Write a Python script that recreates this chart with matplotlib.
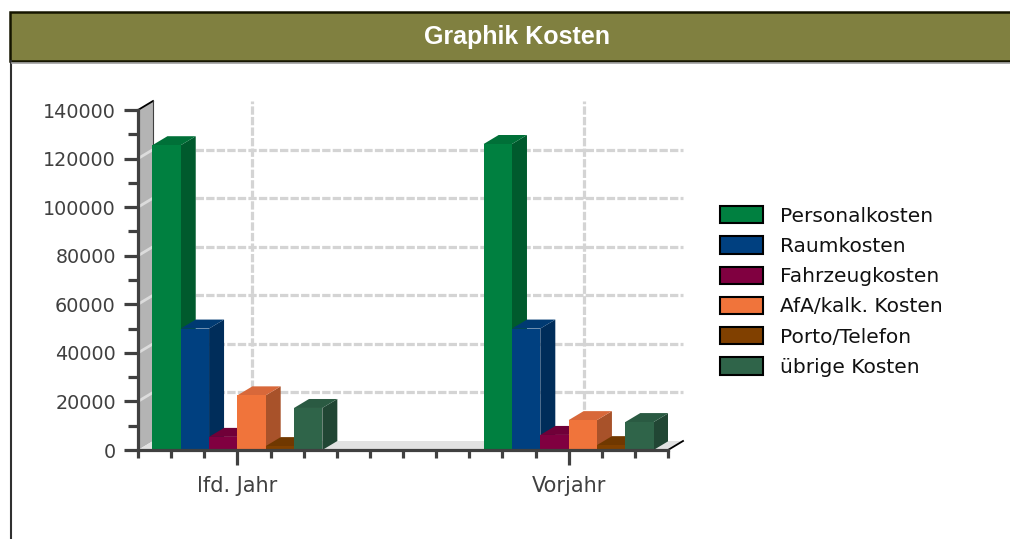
import matplotlib
matplotlib.use("Agg")
import matplotlib.pyplot as plt
from matplotlib.patches import Rectangle, Polygon, Patch
from matplotlib.lines import Line2D

# data
categories = ["lfd. Jahr", "Vorjahr"]
series = ["Personalkosten", "Raumkosten", "Fahrzeugkosten",
          "AfA/kalk. Kosten", "Porto/Telefon", "übrige Kosten"]
lfd_jahr = [125500, 50000, 5400, 22500, 1600, 17300]
vorjahr = [126000, 50000, 6200, 12300, 2000, 11500]
values = [lfd_jahr, vorjahr]

front_colors = ["#008040", "#004080", "#800040", "#f0743b", "#804000", "#2f6449"]
side_colors = ["#005a2d", "#002d5a", "#5a002d", "#a8522a", "#5a2d00", "#214634"]
top_colors = ["#007038", "#003a72", "#700038", "#d8683a", "#703800", "#2a5a42"]

W, H = 1010, 539
fig = plt.figure(figsize=(W / 100, H / 100), dpi=100)

def fx(px):
    return px / W

def fy(py):
    return 1 - py / H

# header band
fig.add_artist(Rectangle((fx(10), fy(61)), fx(1010), fy(12) - fy(61),
                         transform=fig.transFigure, facecolor="#808040",
                         edgecolor="#151500", lw=1.8))
fig.add_artist(Line2D([fx(11), fx(11)], [fy(61), 0], transform=fig.transFigure,
                      color="#303030", lw=1.5))
fig.add_artist(Line2D([fx(12), 1], [fy(62.5), fy(62.5)], transform=fig.transFigure,
                      color="#a0a0a0", lw=1.2))
fig.text(fx(517), fy(37), "Graphik Kosten", ha="center", va="center",
         color="white", fontsize=18, fontweight="bold", family="Liberation Sans")

# plot area
ax_l, ax_r, ax_t, ax_b = 138, 668, 110, 450
ax = fig.add_axes([fx(ax_l), fy(ax_b), fx(ax_r - ax_l), fy(ax_t) - fy(ax_b)])
xmin, xmax, ymin, ymax = -0.3, 1.3, 0, 140000
ax.set_xlim(xmin, xmax)
ax.set_ylim(ymin, ymax)
ax.patch.set_visible(False)

# depth of the 3d effect (15 px right, 9 px up)
dx = 15 * (xmax - xmin) / (ax_r - ax_l)
dy = 9 * (ymax - ymin) / (ax_b - ax_t)

# walls
ax.add_patch(Polygon([(xmin, 0), (xmin, ymax), (xmin + dx, ymax + dy), (xmin + dx, dy)],
                     closed=True, facecolor="#b4b4b4", edgecolor="none", zorder=0.5, clip_on=False))
ax.add_patch(Polygon([(xmin, 0), (xmax, 0), (xmax + dx, dy), (xmin + dx, dy)],
                     closed=True, facecolor="#e2e2e2", edgecolor="none", zorder=0.5, clip_on=False))
ax.plot([xmin, xmin + dx], [ymax, ymax + dy], color="black", lw=1.3, zorder=0.8, clip_on=False)
ax.plot([xmin + dx, xmin + dx], [dy, ymax + dy], color="#404040", lw=0.8, zorder=0.8, clip_on=False)
ax.plot([xmax, xmax + dx], [0, dy], color="black", lw=1.3, zorder=0.8, clip_on=False)

grid_kw = dict(color="#d4d4d4", lw=2.3, dashes=(2.6, 0.7), zorder=0.7, clip_on=False)
for v in range(20000, 140000, 20000):
    ax.plot([xmin + dx, xmax + dx], [v + dy, v + dy], **grid_kw)
    ax.plot([xmin, xmin + dx], [v, v + dy], color="#dcdcdc", lw=2, zorder=0.7, clip_on=False)
for c in range(len(categories)):
    ax.plot([c + dx, c + dx], [dy, ymax + dy], **grid_kw)

# bars
bar_w = 0.0855
n = len(series)
for c, vals in enumerate(values):
    x0 = c - n * bar_w / 2
    for i, h in enumerate(vals):
        xl = x0 + i * bar_w
        xr = xl + bar_w
        z = 2 + i
        ax.bar(xl, h, width=bar_w, align="edge", color=front_colors[i], zorder=z + 0.2)
        ax.add_patch(Polygon([(xr, 0), (xr + dx, dy), (xr + dx, h + dy), (xr, h)],
                             closed=True, facecolor=side_colors[i], edgecolor="none", zorder=z))
        ax.add_patch(Polygon([(xl, h), (xr, h), (xr + dx, h + dy), (xl + dx, h + dy)],
                             closed=True, facecolor=top_colors[i], edgecolor="none", zorder=z))

# axes and ticks
for s in ["top", "right"]:
    ax.spines[s].set_visible(False)
for s in ["left", "bottom"]:
    ax.spines[s].set_color("#404040")
    ax.spines[s].set_linewidth(2.3)
    ax.spines[s].set_zorder(10)
ax.set_yticks(range(0, 140001, 20000))
ax.set_yticks(range(10000, 140000, 20000), minor=True)
ax.set_xticks(range(len(categories)))
ax.set_xticklabels(categories)
ax.set_xticks([xmin + k * 0.1 for k in range(17) if k not in (3, 13)], minor=True)
ax.tick_params(axis="y", which="major", length=10, width=2.3, color="#404040",
               labelsize=13.8, labelcolor="#404040", pad=6)
ax.tick_params(axis="y", which="minor", length=7.5, width=2.3, color="#404040")
ax.tick_params(axis="x", which="major", length=10.5, width=2.3, color="#404040",
               labelsize=15, labelcolor="#404040", pad=8)
ax.tick_params(axis="x", which="minor", length=6, width=2.3, color="#404040")

# legend
handles = [Patch(facecolor=front_colors[i], edgecolor="black", lw=1.5) for i in range(n)]
fig.legend(handles, series, loc="upper left", bbox_to_anchor=(fx(720), fy(206)),
           frameon=False, fontsize=14.5, handlelength=2.15, handleheight=0.95,
           handletextpad=0.85, labelspacing=0.53, borderpad=0, borderaxespad=0,
           labelcolor="#111111")

fig.savefig("out.png", dpi=100)
